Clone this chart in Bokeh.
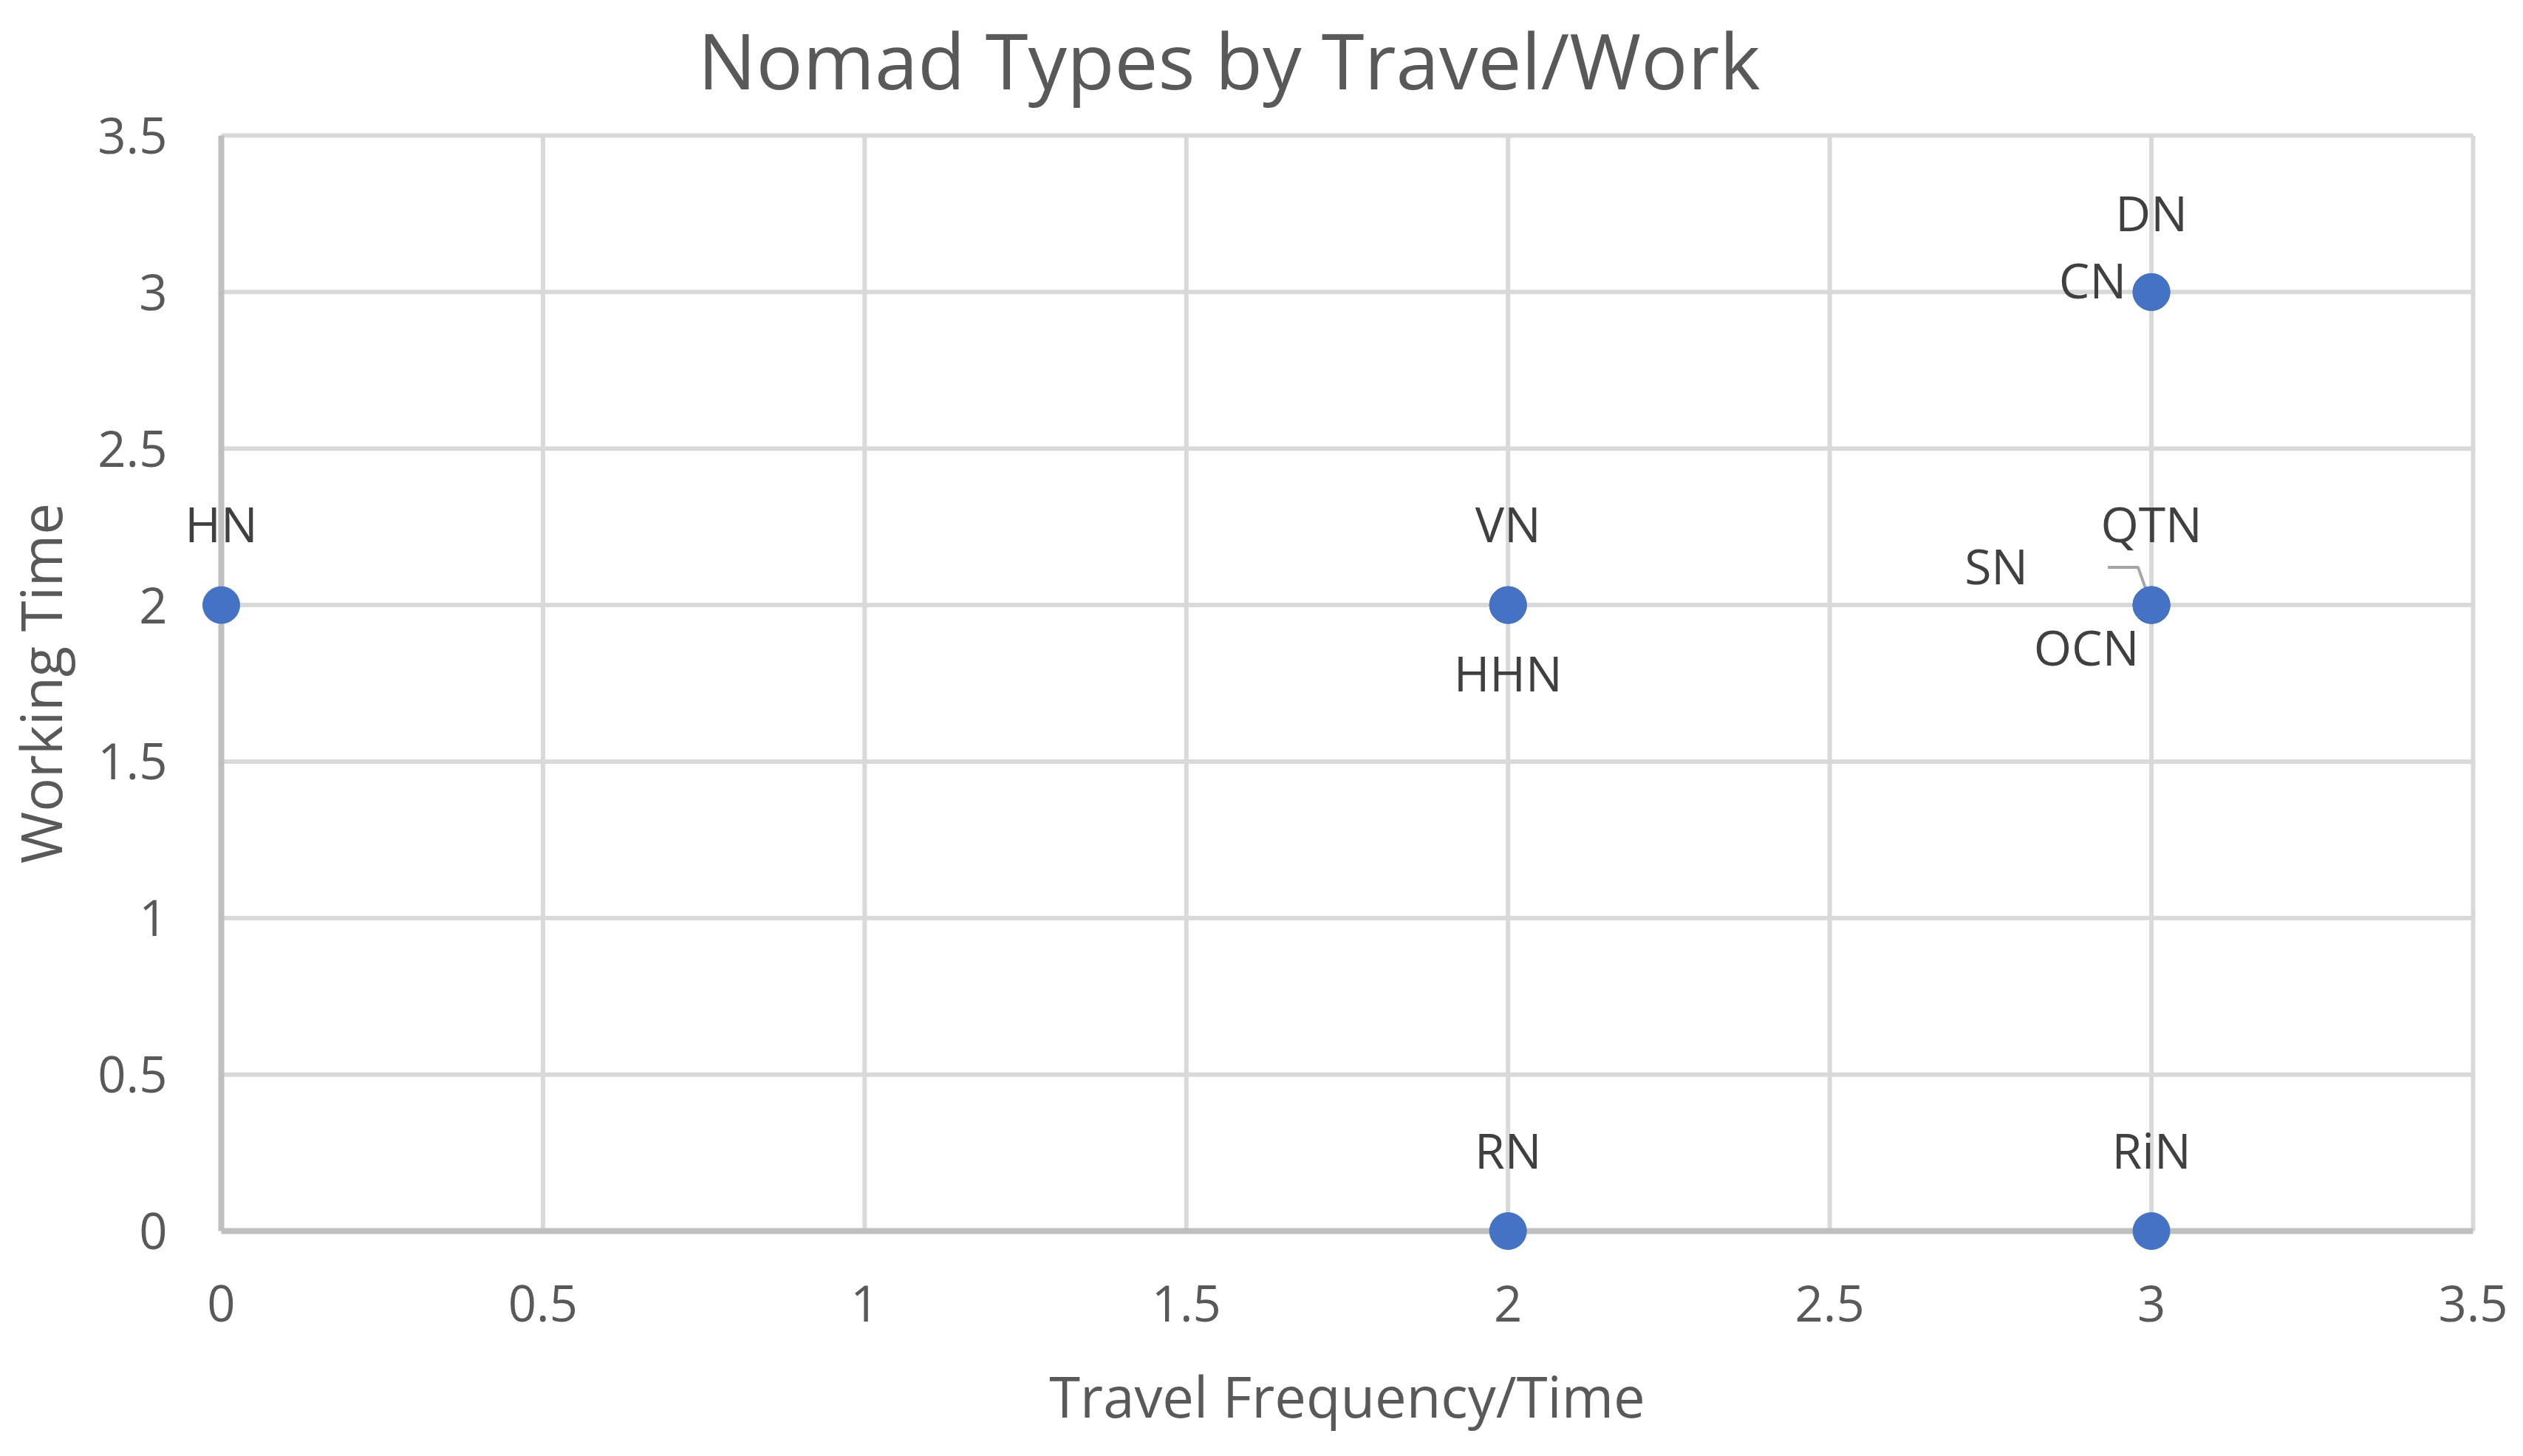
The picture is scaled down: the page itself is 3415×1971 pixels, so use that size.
from bokeh.plotting import figure
from bokeh.models import Range1d, FixedTicker, Label
from bokeh.embed import file_html
from bokeh.resources import INLINE

# ---------------- data ----------------
title_text = "Nomad Types by Travel/Work"
x_title = "Travel Frequency/Time"
y_title = "Working Time"

nomad_types = ["HN", "VN", "HHN", "RN", "RiN", "DN", "CN", "QTN", "SN", "OCN"]
travel_freq = [0, 2, 2, 2, 3, 3, 3, 3, 3, 3]
working_time = [2, 2, 2, 0, 0, 3, 3, 2, 2, 2]

x_ticks = [0, 0.5, 1, 1.5, 2, 2.5, 3, 3.5]
x_tick_labels = ["0", "0.5", "1", "1.5", "2", "2.5", "3", "3.5"]
y_ticks = [0, 0.5, 1, 1.5, 2, 2.5, 3, 3.5]
y_tick_labels = ["0", "0.5", "1", "1.5", "2", "2.5", "3", "3.5"]

# ---------------- style ----------------
FONT = "Open Sans"
AREA_W, AREA_H = 3048, 1483      # plot area (0..3.5) in px
AREA_LEFT, AREA_TOP = 292, 183   # position of the plot area inside the figure
PAD_L, PAD_R, PAD_T, PAD_B = 52, 52, 32, 32   # extra frame so edge marks are not clipped
BORDER_R = 7

GRID_COLOR = "#D9D9D9"
AXIS_COLOR = "#BFBFBF"
POINT_COLOR = "#4472C4"
TEXT_DARK = "#404040"
TEXT_MID = "#595959"

ABOVE = 111
# label placement (pixel offsets from point; style only)
label_style = {
    "HN":  dict(dx=0, dy=ABOVE, align="center"),
    "VN":  dict(dx=0, dy=ABOVE, align="center"),
    "HHN": dict(dx=0, dy=-91, align="center"),
    "RN":  dict(dx=0, dy=ABOVE, align="center"),
    "RiN": dict(dx=0, dy=ABOVE, align="center"),
    "DN":  dict(dx=0, dy=ABOVE - 3, align="center"),
    "CN":  dict(dx=-34, dy=17, align="right"),
    "QTN": dict(dx=0, dy=ABOVE, align="center"),
    "SN":  dict(dx=-210, dy=54, align="center"),
    "OCN": dict(dx=-88, dy=-56, align="center"),
}
LEADER = [(-59, 51), (-18, 51), (0, 0)]   # px offsets for SN leader line

x_span = x_ticks[-1] - x_ticks[0]
y_span = y_ticks[-1] - y_ticks[0]
px_x = AREA_W / x_span
px_y = AREA_H / y_span

frame_w = AREA_W + PAD_L + PAD_R
frame_h = AREA_H + PAD_T + PAD_B
left_b = AREA_LEFT - PAD_L
top_b = AREA_TOP - PAD_T

p = figure(
    frame_width=frame_w, frame_height=frame_h,
    x_range=Range1d(x_ticks[0] - PAD_L / px_x, x_ticks[-1] + PAD_R / px_x),
    y_range=Range1d(y_ticks[0] - PAD_B / px_y, y_ticks[-1] + PAD_T / px_y),
    output_backend="svg", toolbar_location=None,
    min_border_left=left_b, min_border_top=top_b,
    min_border_right=BORDER_R, min_border_bottom=0,
    background_fill_color="white", border_fill_color="white",
)
p.outline_line_color = None
p.grid.visible = False

# title
p.title.text = title_text
p.title.text_font = FONT
p.title.text_font_size = "105px"
p.title.text_font_style = "normal"
p.title.text_color = TEXT_MID
p.title.align = "left"
p.title.offset = 697
p.title.standoff = 0

# gridlines (from tick lists)
gx = [t for t in x_ticks if t != x_ticks[0]]
p.segment(x0=gx, y0=[y_ticks[0]] * len(gx), x1=gx, y1=[y_ticks[-1]] * len(gx),
          line_color=GRID_COLOR, line_width=6)
gy = [t for t in y_ticks if t != y_ticks[0]]
p.segment(x0=[x_ticks[0]] * len(gy), y0=gy, x1=[x_ticks[-1]] * len(gy), y1=gy,
          line_color=GRID_COLOR, line_width=6)
# axis lines at 0
p.segment(x0=[x_ticks[0], x_ticks[0]], y0=[y_ticks[0], y_ticks[0]],
          x1=[x_ticks[-1], x_ticks[0]], y1=[y_ticks[0], y_ticks[-1]],
          line_color=AXIS_COLOR, line_width=8)

# leader line for SN
i_sn = nomad_types.index("SN")
p.line(x=[travel_freq[i_sn] + dx / px_x for dx, dy in LEADER],
       y=[working_time[i_sn] + dy / px_y for dx, dy in LEADER],
       line_color="#A6A6A6", line_width=4)

# points
p.scatter(travel_freq, working_time, size=50, color=POINT_COLOR)

# data labels
for name, xv, yv in zip(nomad_types, travel_freq, working_time):
    st = label_style[name]
    p.add_layout(Label(x=xv, y=yv, text=name, x_offset=st["dx"], y_offset=st["dy"],
                       text_align=st["align"], text_baseline="middle",
                       text_font=FONT, text_font_size="66px", text_color=TEXT_DARK))

# axes
for ax, ticks, labels in ((p.xaxis[0], x_ticks, x_tick_labels), (p.yaxis[0], y_ticks, y_tick_labels)):
    ax.ticker = FixedTicker(ticks=ticks)
    ax.major_label_overrides = {float(t): l for t, l in zip(ticks, labels)}
    ax.axis_line_color = None
    ax.major_tick_line_color = None
    ax.minor_tick_line_color = None
    ax.major_label_text_font = FONT
    ax.major_label_text_font_size = "67px"
    ax.major_label_text_color = TEXT_MID
    ax.axis_label_text_font = FONT
    ax.axis_label_text_font_size = "76px"
    ax.axis_label_text_font_style = "normal"
    ax.axis_label_text_color = TEXT_MID

p.xaxis.axis_label = x_title
p.yaxis.axis_label = y_title
p.xaxis.major_label_standoff = 35
p.yaxis.major_label_standoff = 15
p.xaxis.axis_label_standoff = 46
p.yaxis.axis_label_standoff = 23

open("out.html", "w").write(file_html(p, INLINE))
